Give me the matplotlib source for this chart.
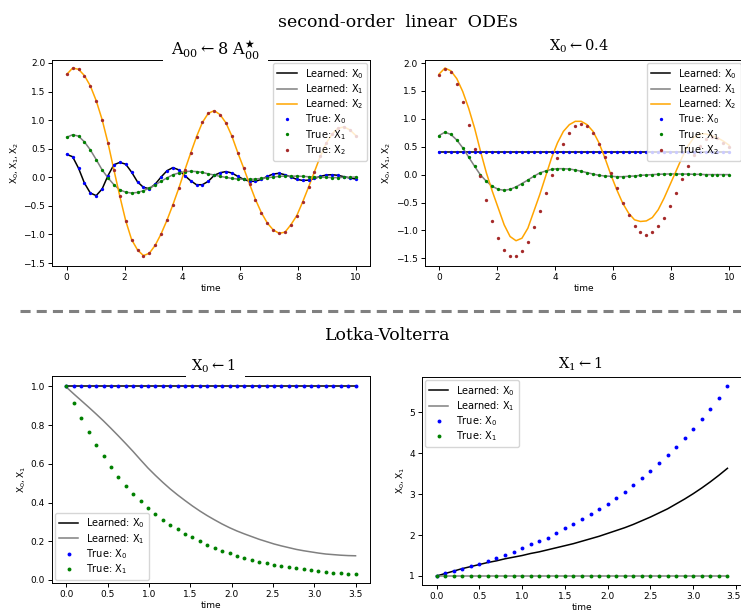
import numpy as np
import matplotlib
matplotlib.use("Agg")
import matplotlib.pyplot as plt
from matplotlib.patches import Rectangle
from matplotlib.lines import Line2D
from matplotlib.transforms import ScaledTranslation

plt.rcParams['font.family'] = ['DejaVu Sans']
plt.rcParams['font.size'] = 6.5

# --- second-order linear ODEs (50 samples on 0..10) ---
t_ode = np.linspace(0, 10, 50)

# panel A00 <- 8 A*00 : learned and true coincide
a_x0 = [0.40, 0.36, 0.16, -0.10, -0.275, -0.32, -0.205, 0.03, 0.22, 0.26,
        0.23, 0.09, -0.08, -0.175, -0.20, -0.12, 0.005, 0.115, 0.17, 0.13,
        0.03, -0.06, -0.13, -0.13, -0.07, 0.034, 0.08, 0.10, 0.075, 0.016,
        -0.036, -0.07, -0.07, -0.036, 0.016, 0.057, 0.07, 0.045, 0.005, -0.036,
        -0.055, -0.05, -0.02, 0.016, 0.04, 0.045, 0.034, 0.01, -0.013, -0.03]
a_x1 = [0.70, 0.745, 0.72, 0.62, 0.48, 0.31, 0.13, -0.01, -0.13, -0.22,
        -0.26, -0.275, -0.265, -0.235, -0.19, -0.13, -0.07, -0.01, 0.045, 0.075,
        0.10, 0.105, 0.10, 0.085, 0.06, 0.04, 0.016, -0.001, -0.02, -0.03,
        -0.036, -0.036, -0.03, -0.02, -0.007, 0.005, 0.016, 0.02, 0.02, 0.02,
        0.016, 0.01, 0.005, 0.0, -0.001, -0.005, -0.005, 0.0, 0.0, 0.005]
a_x2 = [1.80, 1.91, 1.89, 1.78, 1.60, 1.34, 1.01, 0.60, 0.13, -0.33,
        -0.76, -1.09, -1.27, -1.37, -1.33, -1.19, -0.99, -0.75, -0.48, -0.19,
        0.12, 0.42, 0.71, 0.96, 1.12, 1.166, 1.096, 0.95, 0.72, 0.43,
        0.16, -0.12, -0.39, -0.62, -0.80, -0.92, -0.98, -0.96, -0.83, -0.67,
        -0.43, -0.17, 0.10, 0.37, 0.60, 0.76, 0.86, 0.88, 0.83, 0.73]

# panel X0 <- 0.4
b_x0 = [0.40] * 50
b_x1 = [0.70, 0.76, 0.72, 0.62, 0.48, 0.315, 0.15, -0.007, -0.12, -0.21,
        -0.264, -0.28, -0.264, -0.22, -0.16, -0.097, -0.03, 0.03, 0.065, 0.094,
        0.106, 0.106, 0.10, 0.083, 0.06, 0.035, 0.01, -0.013, -0.025, -0.03,
        -0.037, -0.037, -0.03, -0.025, -0.013, -0.007, 0.0, 0.005, 0.01, 0.012,
        0.012, 0.01, 0.01, 0.005, 0.005, 0.0, 0.0, 0.0, 0.0, 0.0]
b_x2_true = [1.79, 1.90, 1.84, 1.63, 1.31, 0.895, 0.45, -0.02, -0.45, -0.83,
             -1.14, -1.35, -1.45, -1.46, -1.375, -1.20, -0.945, -0.65, -0.335, -0.013,
             0.30, 0.55, 0.745, 0.865, 0.907, 0.865, 0.74, 0.55, 0.315, 0.03,
             -0.24, -0.50, -0.72, -0.93, -1.03, -1.08, -1.03, -0.93, -0.78, -0.57,
             -0.33, -0.07, 0.16, 0.36, 0.52, 0.63, 0.67, 0.66, 0.57, 0.50]
b_x2_learned = [1.80, 1.91, 1.86, 1.72, 1.49, 1.19, 0.835, 0.42, 0.03, -0.30,
                -0.60, -0.90, -1.11, -1.185, -1.14, -0.96, -0.66, -0.36, -0.03, 0.30,
                0.57, 0.775, 0.895, 0.955, 0.955, 0.895, 0.775, 0.57, 0.30, 0.0,
                -0.27, -0.51, -0.69, -0.81, -0.84, -0.83, -0.77, -0.63, -0.42, -0.18,
                0.06, 0.30, 0.51, 0.66, 0.73, 0.73, 0.70, 0.66, 0.60, 0.525]

# --- Lotka-Volterra ---
t_lv1 = np.linspace(0, 3.5, 40)
c_x0 = [1.0] * 40
c_x1_true = [1.0, 0.916, 0.836, 0.764, 0.699, 0.639, 0.583, 0.534, 0.487, 0.446,
             0.406, 0.372, 0.341, 0.312, 0.286, 0.262, 0.239, 0.220, 0.201, 0.182,
             0.167, 0.151, 0.138, 0.126, 0.114, 0.105, 0.095, 0.088, 0.079, 0.072,
             0.065, 0.060, 0.055, 0.050, 0.046, 0.041, 0.038, 0.034, 0.031, 0.029]
c_x1_learned = [0.995, 0.96, 0.926, 0.892, 0.857, 0.821, 0.783, 0.744, 0.704, 0.663,
                0.62, 0.578, 0.54, 0.504, 0.47, 0.439, 0.41, 0.382, 0.356, 0.332,
                0.31, 0.289, 0.27, 0.253, 0.238, 0.224, 0.21, 0.198, 0.186, 0.176,
                0.167, 0.158, 0.151, 0.145, 0.139, 0.134, 0.131, 0.128, 0.126, 0.125]

t_lv2 = np.arange(35) * 0.1
d_x0_true = [1.0, 1.065, 1.12, 1.17, 1.24, 1.29, 1.36, 1.43, 1.51, 1.59,
             1.68, 1.77, 1.86, 1.94, 2.04, 2.16, 2.26, 2.38, 2.51, 2.64,
             2.77, 2.91, 3.06, 3.22, 3.39, 3.57, 3.75, 3.96, 4.16, 4.37,
             4.60, 4.84, 5.09, 5.35, 5.63]
d_x0_learned = [1.00, 1.06, 1.12, 1.18, 1.23, 1.28, 1.33, 1.37, 1.42, 1.46,
                1.50, 1.55, 1.59, 1.64, 1.69, 1.74, 1.79, 1.85, 1.91, 1.97,
                2.04, 2.11, 2.18, 2.26, 2.35, 2.44, 2.54, 2.64, 2.76, 2.88,
                3.01, 3.15, 3.30, 3.46, 3.63]
d_x1 = [1.0] * 35

W, H = 741, 612
fig = plt.figure(figsize=(W / 100, H / 100), dpi=100)


def px_axes(left, top, width, height):
    return fig.add_axes([left / W, 1 - (top + height) / H, width / W, height / H])


def style(ax):
    for s in ax.spines.values():
        s.set_linewidth(0.7)
    ax.tick_params(length=3, width=0.7, pad=2, labelsize=6.5)
    ax.xaxis.label.set_size(6.5)
    ax.yaxis.label.set_size(6.5)
    ax.set_xlabel('time', labelpad=1.5)


lw = 1.1
ms = 2.4
ms_lv = 2.8
legend_kw = dict(fontsize=7, borderaxespad=0.3, labelspacing=0.15)

# top left
ax1 = px_axes(52.25, 60, 318, 206)
ax1.plot(t_ode, a_x0, color='black', lw=lw, label=r'Learned: $\mathregular{X_0}$')
ax1.plot(t_ode, a_x1, color='gray', lw=lw, label=r'Learned: $\mathregular{X_1}$')
ax1.plot(t_ode, a_x2, color='orange', lw=lw, label=r'Learned: $\mathregular{X_2}$')
ax1.plot(t_ode, a_x0, 'o', color='blue', ms=ms, mew=0, label=r'True: $\mathregular{X_0}$')
ax1.plot(t_ode, a_x1, 'o', color='green', ms=ms, mew=0, label=r'True: $\mathregular{X_1}$')
ax1.plot(t_ode, a_x2, 'o', color='brown', ms=ms, mew=0, label=r'True: $\mathregular{X_2}$')
ax1.set_xlim(-0.5, 10.5)
ax1.set_ylim(-1.552, 2.052)
ax1.set_xticks([0, 2, 4, 6, 8, 10])
ax1.set_yticks([-1.5, -1.0, -0.5, 0.0, 0.5, 1.0, 1.5, 2.0])
ax1.set_ylabel(r'$\mathregular{X_0,X_1,X_2}$', labelpad=2)
style(ax1)
ax1.legend(loc='upper right', **legend_kw)

# top right
ax2 = px_axes(424.5, 60, 319.3, 206)
ax2.plot(t_ode, b_x0, color='black', lw=lw, label=r'Learned: $\mathregular{X_0}$')
ax2.plot(t_ode, b_x1, color='gray', lw=lw, label=r'Learned: $\mathregular{X_1}$')
ax2.plot(t_ode, b_x2_learned, color='orange', lw=lw, label=r'Learned: $\mathregular{X_2}$')
ax2.plot(t_ode, b_x0, 'o', color='blue', ms=ms, mew=0, label=r'True: $\mathregular{X_0}$')
ax2.plot(t_ode, b_x1, 'o', color='green', ms=ms, mew=0, label=r'True: $\mathregular{X_1}$')
ax2.plot(t_ode, b_x2_true, 'o', color='brown', ms=ms, mew=0, label=r'True: $\mathregular{X_2}$')
ax2.set_xlim(-0.5, 10.5)
ax2.set_ylim(-1.638, 2.054)
ax2.set_xticks([0, 2, 4, 6, 8, 10])
ax2.set_yticks([-1.5, -1.0, -0.5, 0.0, 0.5, 1.0, 1.5, 2.0])
ax2.set_ylabel(r'$\mathregular{X_0,X_1,X_2}$', labelpad=2)
style(ax2)
ax2.legend(loc='upper right', **legend_kw)

# bottom left
ax3 = px_axes(52, 376, 318, 207)
ax3.plot(t_lv1, c_x0, color='black', lw=lw, label=r'Learned: $\mathregular{X_0}$')
ax3.plot(t_lv1, c_x1_learned, color='gray', lw=lw, label=r'Learned: $\mathregular{X_1}$')
ax3.plot(t_lv1, c_x0, 'o', color='blue', ms=ms_lv, mew=0, label=r'True: $\mathregular{X_0}$')
ax3.plot(t_lv1, c_x1_true, 'o', color='green', ms=ms_lv, mew=0, label=r'True: $\mathregular{X_1}$')
ax3.set_xlim(-0.175, 3.675)
ax3.set_ylim(-0.0155, 1.053)
ax3.set_xticks(np.arange(0, 3.51, 0.5))
ax3.set_yticks([0.0, 0.2, 0.4, 0.6, 0.8, 1.0])
ax3.set_ylabel(r'$\mathregular{X_0,X_1}$', labelpad=2)
style(ax3)
ax3.legend(loc='lower left', **legend_kw)

# bottom right
ax4 = px_axes(422, 377, 320, 208)
ax4.plot(t_lv2, d_x0_learned, color='black', lw=lw, label=r'Learned: $\mathregular{X_0}$')
ax4.plot(t_lv2, d_x1, color='gray', lw=lw, label=r'Learned: $\mathregular{X_1}$')
ax4.plot(t_lv2, d_x0_true, 'o', color='blue', ms=ms_lv, mew=0, label=r'True: $\mathregular{X_0}$')
ax4.plot(t_lv2, d_x1, 'o', color='green', ms=ms_lv, mew=0, label=r'True: $\mathregular{X_1}$')
ax4.set_xlim(-0.17, 3.57)
ax4.set_ylim(0.78, 5.86)
ax4.set_xticks(np.arange(0, 3.51, 0.5))
ax4.set_yticks([1, 2, 3, 4, 5])
ax4.set_ylabel(r'$\mathregular{X_0,X_1}$', labelpad=2)
style(ax4)
ax4.legend(loc='upper left', **legend_kw)
# keep the last tick label inside the picture
last = ax4.get_xticklabels()[-1]
last.set_horizontalalignment('right')
last.set_transform(last.get_transform() + ScaledTranslation(0.045, 0, fig.dpi_scale_trans))

# white patches that cut the top spine under two of the subtitles
for (x0, y0, w, h) in [(163, 36, 105, 26), (186, 352, 59, 26)]:
    fig.add_artist(Rectangle((x0 / W, 1 - (y0 + h) / H), w / W, h / H,
                             transform=fig.transFigure, facecolor='white',
                             edgecolor='none', zorder=2))


def ftext(x, y, s, size):
    fig.text(x / W, 1 - y / H, s, ha='center', va='baseline', fontsize=size,
             family=['DejaVu Serif', 'DejaVu Sans'], zorder=5)


ftext(398, 27, 'second-order  linear  ODEs', 12.5)
ftext(388, 340, 'Lotka-Volterra', 12.5)
ftext(215, 56, r'$\mathregular{A_{00} \leftarrow 8\ A^{\bigstar}_{00}}$', 11.5)
ftext(579, 51, r'$\mathregular{X_0 \leftarrow 0.4}$', 10.5)
ftext(213, 371, r'$\mathregular{X_0 \leftarrow 1}$', 10.5)
ftext(580, 369, r'$\mathregular{X_1 \leftarrow 1}$', 10.5)

# dashed separator between the two groups
fig.add_artist(Line2D([20 / W, 1], [1 - 311 / H, 1 - 311 / H], transform=fig.transFigure,
                      color='gray', lw=2.2, dashes=(3.3, 2.0)))

fig.savefig('out.png', dpi=100)
